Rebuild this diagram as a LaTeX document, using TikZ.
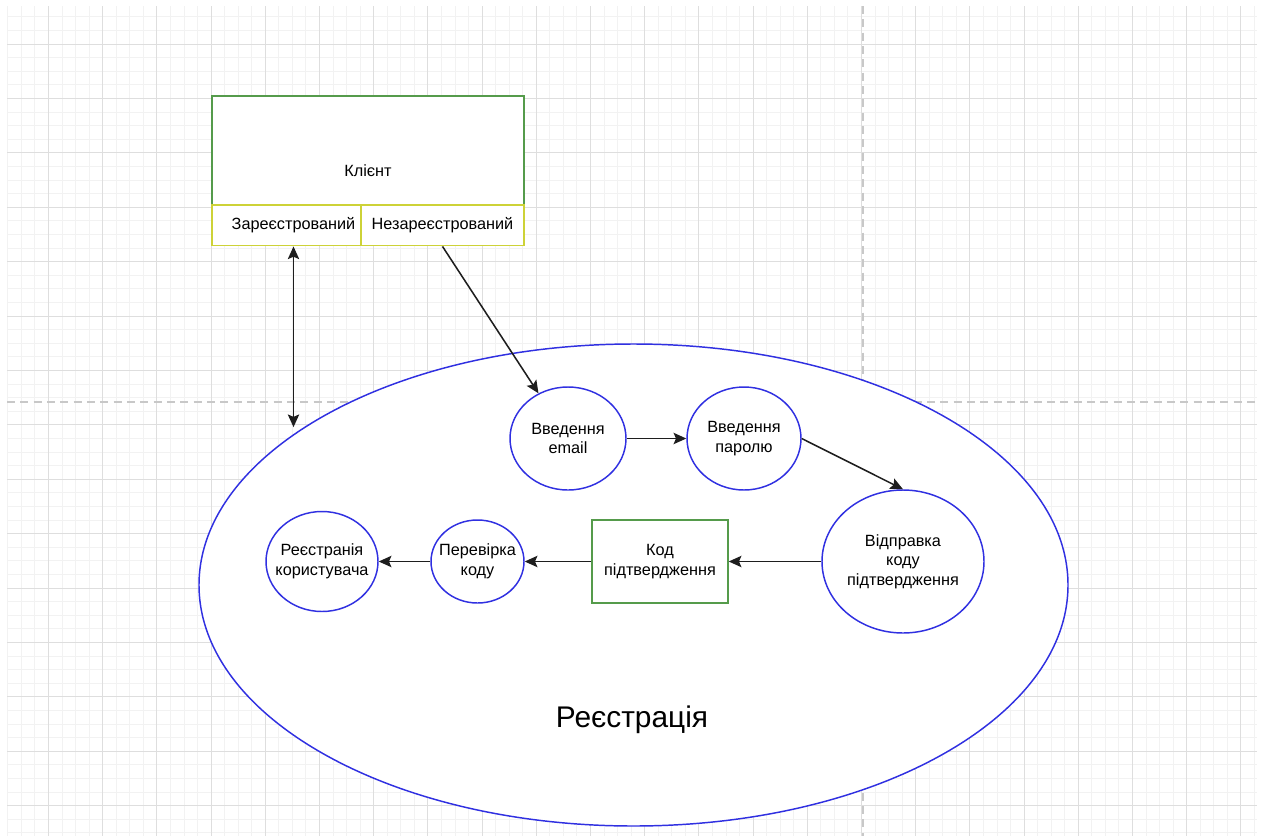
\documentclass[tikz,border=0pt]{standalone}
\usepackage{fontspec}
\setmainfont{Liberation Sans}
\usetikzlibrary{shapes.geometric,arrows.meta,calc}

\definecolor{gridminor}{RGB}{242,242,242}
\definecolor{gridmajor}{RGB}{222,222,222}
\definecolor{pagebreak}{RGB}{200,200,200}
\definecolor{blueline}{RGB}{48,48,225}
\definecolor{greenline}{RGB}{85,155,75}
\definecolor{yellowline}{RGB}{205,210,55}
\definecolor{arrowline}{RGB}{30,30,30}

\tikzset{
  lbl/.style={font=\fontsize{12.2pt}{14.7pt}\selectfont, text=black, align=center},
  % ellipse outline only; the text sits in a centred label so it never widens the shape
  state/.style={ellipse, draw=blueline, fill=white, line width=1.1pt, inner sep=0pt},
  greenbox/.style={lbl, rectangle, draw=greenline, fill=white, line width=1.1pt, inner sep=0pt},
  yellowbox/.style={lbl, rectangle, draw=yellowline, fill=white, line width=1.1pt, inner sep=0pt},
  arr/.style={draw=arrowline, line width=1.15pt, -{Stealth[length=9.5pt,width=8.5pt,inset=1.8pt]}},
  biarr/.style={draw=arrowline, line width=1.15pt, {Stealth[length=9.5pt,width=8.5pt,inset=1.8pt]}-{Stealth[length=9.5pt,width=8.5pt,inset=1.8pt]}},
}

\begin{document}
\begin{tikzpicture}[x=0.75pt,y=-0.75pt]
\useasboundingbox (0,0) rectangle (1261,836);
\fill[white] (0,0) rectangle (1261,836);

% background grid: fine lines, then every fourth line stronger
\begin{scope}
\clip (7,6) rectangle (1257,836);
\foreach \k in {-3,...,89} \draw[gridminor, line width=0.75pt] ({48.5+13.55*\k},6) -- ({48.5+13.55*\k},836);
\foreach \k in {-2,...,58} \draw[gridminor, line width=0.75pt] (7,{44+13.6*\k}) -- (1257,{44+13.6*\k});
\foreach \k in {0,...,22} \draw[gridmajor, line width=0.75pt] ({48.5+54.2*\k},6) -- ({48.5+54.2*\k},836);
\foreach \k in {0,...,14} \draw[gridmajor, line width=0.75pt] (7,{44+54.4*\k}) -- (1257,{44+54.4*\k});
% page break lines
\draw[pagebreak, line width=1.2pt, dash pattern=on 6pt off 4pt] (863,6) -- (863,836);
\draw[pagebreak, line width=1.2pt, dash pattern=on 6pt off 4pt] (7,402) -- (1257,402);
\end{scope}

% client container with its two parts
\node[greenbox, minimum width=312*0.75pt, minimum height=149.7*0.75pt] (client) at (368,170.85) {Клієнт};
\node[yellowbox, minimum width=163*0.75pt, minimum height=40.7*0.75pt] (reg) at (293.5,225.35) {Зареєстрований};
\node[yellowbox, minimum width=163*0.75pt, minimum height=40.7*0.75pt] (unreg) at (442.5,225.35) {Незареєстрований};

% registration area
\node[ellipse, draw=blueline, fill=white, line width=1.1pt, minimum width=869*0.75pt, minimum height=482*0.75pt, inner sep=0pt] (big) at (633.5,585) {};
\node[font=\fontsize{22.4pt}{27pt}\selectfont, text=black] (bigtitle) at (632,720) {Реєстрація};

% registration steps
\node[state, minimum width=116*0.75pt, minimum height=103*0.75pt, label={[lbl]center:Введення\\email}] (email) at (568,438.5) {};
\node[state, minimum width=114*0.75pt, minimum height=103*0.75pt, label={[lbl]center:Введення\\паролю}] (pass) at (744,438.5) {};
\node[state, minimum width=162*0.75pt, minimum height=143*0.75pt, label={[lbl]center:Відправка\\коду\\підтвердження}] (send) at (903,561.5) {};
\node[greenbox, minimum width=136*0.75pt, minimum height=83*0.75pt] (code) at (660,561.5) {Код\\підтвердження};
\node[state, minimum width=93*0.75pt, minimum height=83*0.75pt, label={[lbl]center:Перевірка\\коду}] (check) at (477.5,561.5) {};
\node[state, minimum width=112*0.75pt, minimum height=100*0.75pt, label={[lbl]center:Реєстранія\\користувача}] (done) at (322,561.5) {};

% connectors
\draw[biarr, shorten >=5pt] (reg.south) -- (reg.south |- big.156.2);
\draw[arr] (unreg.south) -- (email);
\draw[arr] (email) -- (pass);
\draw[arr] (pass.east) -- (send.north);
\draw[arr] (send.west) -- (code.east);
\draw[arr] (code.west) -- (check.east);
\draw[arr] (check.west) -- (done.east);
\end{tikzpicture}
\end{document}
